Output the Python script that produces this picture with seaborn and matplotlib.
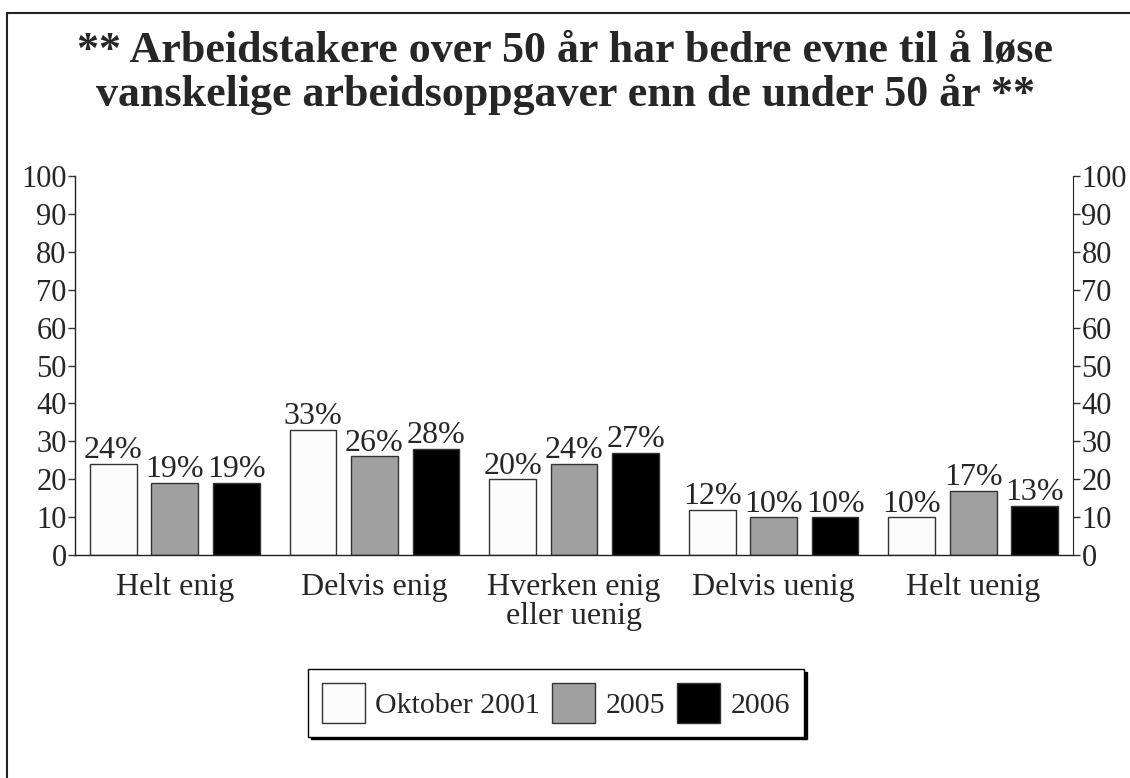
import pandas as pd
import numpy as np
import matplotlib
matplotlib.use('Agg')
import matplotlib.pyplot as plt
from matplotlib.lines import Line2D
import seaborn as sns

sns.set_style("white")
plt.rcParams['font.family'] = ['Liberation Serif', 'DejaVu Serif']

# data
categories = ['Helt enig', 'Delvis enig', 'Hverken enig\neller uenig', 'Delvis uenig', 'Helt uenig']
series = ['Oktober 2001', '2005', '2006']
v2001 = [24, 33, 20, 12, 10]
v2005 = [19, 26, 24, 10, 17]
v2006 = [19, 28, 27, 10, 13]
colors = ['#fcfcfc', '#a0a0a0', '#000000']
title = '** Arbeidstakere over 50 år har bedre evne til å løse\nvanskelige arbeidsoppgaver enn de under 50 år **'

df = pd.DataFrame({
    'kategori': categories * 3,
    'serie': [s for s in series for _ in categories],
    'verdi': v2001 + v2005 + v2006,
})

fig = plt.figure(figsize=(11.3, 7.78), dpi=100)
ax = fig.add_axes([0.0664, 0.2866, 0.8832, 0.4872])

sns.barplot(data=df, x='kategori', y='verdi', hue='serie', order=categories,
            hue_order=series, palette=colors, width=0.924, gap=0.24,
            edgecolor='#333333', linewidth=1, ax=ax)

for cont in ax.containers:
    ax.bar_label(cont, fmt='%d%%', padding=-1, fontsize=23)

ax.set_ylim(0, 100)
ax.set_xlim(-0.5, 4.5)
ax.set_yticks(np.arange(0, 101, 10))
ax.set_xlabel('')
ax.set_ylabel('')
ax.tick_params(axis='y', direction='out', length=5, width=1, color='#333333', labelsize=22, pad=1)
ax.tick_params(axis='x', length=0, labelsize=23, pad=13)
for lab in ax.get_xticklabels():
    lab.set_linespacing(1.0)
for s in ['top', 'right']:
    ax.spines[s].set_visible(False)
for s in ['left', 'bottom']:
    ax.spines[s].set_color('#222222')
    ax.spines[s].set_linewidth(1)

ax2 = ax.twinx()
ax2.set_ylim(0, 100)
ax2.set_yticks(np.arange(0, 101, 10))
ax2.tick_params(axis='y', direction='out', length=5, width=1, color='#333333', labelsize=22, pad=1)
for s in ['top', 'left', 'bottom']:
    ax2.spines[s].set_visible(False)
ax2.spines['right'].set_color('#222222')

ax.get_legend().remove()
handles, labels = ax.get_legend_handles_labels()
leg = fig.legend(handles, labels, loc='center', bbox_to_anchor=(556 / 1130, 1 - 703 / 778),
                 ncol=3, fontsize=21.5, frameon=True, fancybox=False,
                 shadow={'color': 'black', 'alpha': 1}, handlelength=1.45, handleheight=1.7,
                 handletextpad=0.35, columnspacing=0.4, borderpad=0.45, borderaxespad=0)
leg.get_frame().set_edgecolor('black')
leg.get_frame().set_linewidth(1)

fig.text(0.5, 1 - 106 / 778, title, ha='center', va='baseline', fontsize=31.7,
         fontweight='bold', linespacing=1.1)

# outer frame (left and top edges)
fig.add_artist(Line2D([7 / 1130, 7 / 1130], [0, 1 - 13 / 778], transform=fig.transFigure,
                      color='#222222', linewidth=1.5))
fig.add_artist(Line2D([7 / 1130, 1], [1 - 13 / 778, 1 - 13 / 778], transform=fig.transFigure,
                      color='#222222', linewidth=1.5))

fig.savefig('out.png', dpi=100)
